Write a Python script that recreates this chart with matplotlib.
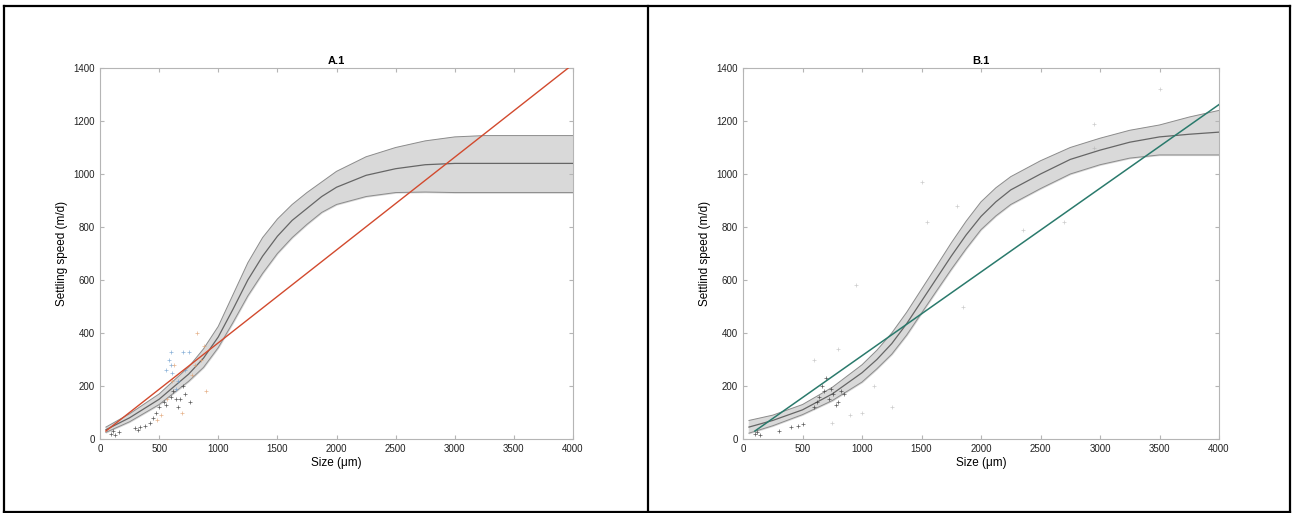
import matplotlib
matplotlib.use("Agg")
import matplotlib.pyplot as plt
from matplotlib.lines import Line2D

plt.rcParams['font.family'] = ['Liberation Sans', 'DejaVu Sans']

# ---------------- Panel A.1 data ----------------
a_x = [50, 250, 500, 750, 875, 1000, 1125, 1250, 1375, 1500, 1625, 1750, 1875, 2000, 2250, 2500, 2750, 3000, 3250, 3500, 3750, 4000]
a_mean = [35, 80, 150, 245, 305, 385, 490, 600, 690, 765, 825, 870, 915, 950, 995, 1020, 1035, 1040, 1040, 1040, 1040, 1040]
a_upper = [45, 95, 170, 272, 340, 425, 545, 665, 760, 830, 885, 930, 970, 1010, 1065, 1100, 1125, 1140, 1145, 1145, 1145, 1145]
a_lower = [25, 65, 130, 218, 270, 345, 440, 540, 625, 700, 760, 810, 855, 885, 915, 930, 932, 930, 930, 930, 930, 930]
a_line_x = [50, 3960]
a_line_y = [30, 1400]

a_pts_dark_x = [90, 110, 130, 160, 300, 320, 340, 380, 420, 450, 470, 500, 540, 560, 600, 620, 640, 660, 680, 700, 720, 760]
a_pts_dark_y = [20, 30, 15, 25, 40, 35, 45, 50, 60, 80, 100, 120, 140, 130, 160, 180, 150, 120, 150, 200, 170, 140]
a_pts_blue_x = [560, 580, 600, 610, 640, 700, 720, 750, 660, 600]
a_pts_blue_y = [260, 300, 330, 250, 190, 330, 260, 330, 220, 280]
a_pts_orange_x = [480, 520, 570, 630, 690, 780, 800, 820, 850, 880, 900, 610]
a_pts_orange_y = [70, 90, 150, 280, 100, 240, 280, 400, 300, 350, 180, 220]

# ---------------- Panel B.1 data ----------------
b_x = [50, 250, 500, 750, 1000, 1125, 1250, 1375, 1500, 1625, 1750, 1875, 2000, 2125, 2250, 2500, 2750, 3000, 3250, 3500, 3750, 4000]
b_mean = [45, 70, 110, 170, 250, 300, 360, 435, 520, 605, 690, 770, 840, 895, 940, 1000, 1055, 1090, 1120, 1140, 1150, 1158]
b_upper = [70, 90, 130, 195, 280, 335, 400, 478, 565, 652, 740, 822, 895, 948, 990, 1050, 1100, 1135, 1165, 1185, 1215, 1240]
b_lower = [22, 50, 92, 145, 215, 265, 320, 392, 475, 558, 640, 718, 790, 842, 885, 945, 1000, 1035, 1060, 1072, 1072, 1072]
b_line_x = [100, 4000]
b_line_y = [30, 1262]

b_pts_dark_x = [100, 120, 140, 300, 400, 460, 500, 600, 620, 640, 660, 680, 700, 720, 740, 760, 780, 800, 820, 850]
b_pts_dark_y = [20, 25, 15, 30, 45, 50, 55, 120, 140, 160, 200, 180, 230, 150, 190, 170, 130, 140, 180, 170]
b_pts_gray_x = [3500, 2950, 1500, 1550, 1800, 950, 1850, 2350, 2700, 2950, 800, 1000, 1250, 1100, 600, 750, 900]
b_pts_gray_y = [1320, 1190, 970, 820, 880, 580, 500, 790, 820, 1100, 340, 100, 120, 200, 300, 60, 90]

xticks = [0, 500, 1000, 1500, 2000, 2500, 3000, 3500, 4000]
yticks = [0, 200, 400, 600, 800, 1000, 1200, 1400]

W, H = 1293, 513
fig = plt.figure(figsize=(W / 100, H / 100), dpi=100)


def style(ax, title, ylabel):
    ax.set_xlim(0, 4000)
    ax.set_ylim(0, 1400)
    ax.set_xticks(xticks)
    ax.set_yticks(yticks)
    for s in ax.spines.values():
        s.set_color('#b5b5b5')
        s.set_linewidth(0.8)
    ax.tick_params(direction='in', length=3, color='#b5b5b5', labelsize=7,
                   top=True, right=True, labelcolor='#222222')
    ax.set_title(title, fontsize=8, fontweight='bold', pad=3)
    ax.set_xlabel('Size (μm)', fontsize=8.5, labelpad=2)
    ax.set_ylabel(ylabel, fontsize=8.5, labelpad=4)


def points(ax, xs, ys, color, alpha):
    ax.scatter(xs, ys, marker='+', s=6, linewidths=0.5, color=color, alpha=alpha, zorder=4)


axA = fig.add_axes([100 / W, 1 - 439 / H, 473 / W, 371 / H])
axA.fill_between(a_x, a_lower, a_upper, color='#d9d9d9', zorder=1)
axA.plot(a_x, a_upper, color='#8c8c8c', lw=0.7, zorder=2)
axA.plot(a_x, a_lower, color='#8c8c8c', lw=0.7, zorder=2)
axA.plot(a_x, a_mean, color='#666666', lw=0.9, zorder=3)
points(axA, a_pts_dark_x, a_pts_dark_y, '#333333', 0.8)
points(axA, a_pts_blue_x, a_pts_blue_y, '#6f9fcf', 0.8)
points(axA, a_pts_orange_x, a_pts_orange_y, '#e0a070', 0.8)
axA.plot(a_line_x, a_line_y, color='#d24a2e', lw=1.0, zorder=5)
style(axA, 'A.1', 'Settling speed (m/d)')

axB = fig.add_axes([743 / W, 1 - 439 / H, 476 / W, 371 / H])
axB.fill_between(b_x, b_lower, b_upper, color='#d9d9d9', zorder=1)
axB.plot(b_x, b_upper, color='#8c8c8c', lw=0.7, zorder=2)
axB.plot(b_x, b_lower, color='#8c8c8c', lw=0.7, zorder=2)
axB.plot(b_x, b_mean, color='#666666', lw=0.9, zorder=3)
points(axB, b_pts_dark_x, b_pts_dark_y, '#333333', 0.8)
points(axB, b_pts_gray_x, b_pts_gray_y, '#aaaaaa', 0.6)
axB.plot(b_line_x, b_line_y, color='#2a7a6c', lw=1.1, zorder=5)
style(axB, 'B.1', 'Settlind speed (m/d)')


# outer panel borders
def px(x, y):
    return x / W, 1 - y / H


for (x0, y0, x1, y1) in [(4, 6, 1290, 6), (4, 6, 4, 513), (648, 6, 648, 513),
                         (1290, 6, 1290, 513), (4, 512, 1290, 512)]:
    (fx0, fy0), (fx1, fy1) = px(x0, y0), px(x1, y1)
    fig.add_artist(Line2D([fx0, fx1], [fy0, fy1], color='black', lw=1.6,
                          transform=fig.transFigure))

fig.savefig('out.png', dpi=100)
